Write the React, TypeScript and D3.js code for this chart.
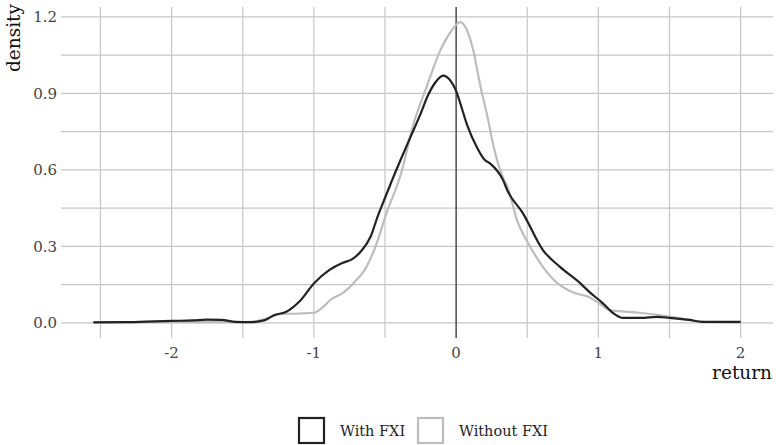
import React, { useEffect, useRef } from "react";
import * as d3 from "d3";

const WIDTH = 776;
const HEIGHT = 445;
const MARGIN = { TOP: 7, BOTTOM: 107, LEFT: 61, RIGHT: 3 };

// With FXI (black)
const returnsWith = [
  -2.55, -2.3, -2.0, -1.85, -1.75, -1.65, -1.55, -1.45, -1.35, -1.28, -1.19, -1.1, -1.0, -0.89, -0.8,
  -0.73, -0.67, -0.6, -0.55, -0.5, -0.45, -0.39, -0.32, -0.25, -0.2, -0.15, -0.09, -0.04, 0.0, 0.03,
  0.075, 0.145, 0.2, 0.24, 0.33, 0.36, 0.47, 0.61, 0.73, 0.87, 0.94, 1.03, 1.1, 1.17, 1.3, 1.41, 1.5,
  1.64, 1.73, 1.85, 2.0,
];
const densityWith = [
  0.002, 0.003, 0.008, 0.01, 0.013, 0.012, 0.004, 0.003, 0.01, 0.03, 0.045, 0.085, 0.155, 0.208, 0.235,
  0.25, 0.28, 0.34, 0.42, 0.49, 0.56, 0.64, 0.73, 0.82, 0.89, 0.94, 0.97, 0.95, 0.91, 0.86,
  0.78, 0.69, 0.64, 0.625, 0.56, 0.52, 0.43, 0.286, 0.22, 0.157, 0.12, 0.078, 0.04, 0.02, 0.02, 0.024, 0.02,
  0.012, 0.004, 0.004, 0.004,
];

// Without FXI (grey)
const returnsWithout = [
  -2.55, -2.0, -1.6, -1.45, -1.38, -1.3, -1.25, -1.1, -1.0, -0.94, -0.885, -0.79, -0.72, -0.63, -0.56,
  -0.49, -0.39, -0.3, -0.205, -0.11, -0.04, 0.03, 0.075, 0.12, 0.17, 0.22, 0.26, 0.33, 0.36, 0.43, 0.52,
  0.61, 0.71, 0.82, 0.94, 1.0, 1.08, 1.29, 1.5, 1.64, 1.72, 2.0,
];
const densityWithout = [
  0.003, 0.003, 0.003, 0.004, 0.01, 0.025, 0.035, 0.037, 0.04, 0.06, 0.09, 0.12, 0.157, 0.22, 0.31,
  0.43, 0.58, 0.78, 0.93, 1.07, 1.14, 1.18, 1.15, 1.07, 0.93, 0.81, 0.7, 0.57, 0.535, 0.4, 0.3,
  0.22, 0.157, 0.12, 0.1, 0.08, 0.05, 0.04, 0.025, 0.012, 0.004, 0.002,
];

const xTicks = [-2, -1, 0, 1, 2];
const xMinor = [-2.5, -1.5, -0.5, 0.5, 1.5];
const yTicks = [0, 0.3, 0.6, 0.9, 1.2];
const yMinor = [0.15, 0.45, 0.75, 1.05];
const seriesNames = ["With FXI", "Without FXI"];
const seriesColors = ["#222222", "#bdbdbd"];

const FONT = "'DejaVu Serif', serif";

export default function App() {
  const ref = useRef<SVGSVGElement>(null);

  useEffect(() => {
    const svg = d3.select(ref.current);
    svg.selectAll("*").remove();

    const x = d3
      .scaleLinear()
      .domain([-2.7775, 2.2275])
      .range([MARGIN.LEFT, WIDTH - MARGIN.RIGHT]);
    const y = d3
      .scaleLinear()
      .domain([-0.059, 1.239])
      .range([HEIGHT - MARGIN.BOTTOM, MARGIN.TOP]);

    const grid = svg.append("g");
    [...xTicks, ...xMinor].forEach((t) => {
      grid
        .append("line")
        .attr("x1", x(t))
        .attr("x2", x(t))
        .attr("y1", y.range()[1])
        .attr("y2", y.range()[0])
        .attr("stroke", "#c6c6c6")
        .attr("stroke-width", 1.2);
    });
    [...yTicks, ...yMinor].forEach((t) => {
      grid
        .append("line")
        .attr("x1", x.range()[0])
        .attr("x2", x.range()[1])
        .attr("y1", y(t))
        .attr("y2", y(t))
        .attr("stroke", "#c6c6c6")
        .attr("stroke-width", 1.2);
    });

    // vertical reference at 0
    svg
      .append("line")
      .attr("x1", x(0))
      .attr("x2", x(0))
      .attr("y1", y.range()[1])
      .attr("y2", y.range()[0])
      .attr("stroke", "#111")
      .attr("stroke-width", 1);

    const line = d3
      .line<[number, number]>()
      .x((d) => x(d[0]))
      .y((d) => y(d[1]))
      .curve(d3.curveMonotoneX);

    const seriesData: [number, number][][] = [
      returnsWith.map((r, i) => [r, densityWith[i]]),
      returnsWithout.map((r, i) => [r, densityWithout[i]]),
    ];
    // grey drawn first, black on top
    [1, 0].forEach((i) => {
      svg
        .append("path")
        .attr("d", line(seriesData[i]))
        .attr("fill", "none")
        .attr("stroke", seriesColors[i])
        .attr("stroke-width", 2.2);
    });

    // tick labels
    svg
      .append("g")
      .selectAll("text")
      .data(xTicks)
      .enter()
      .append("text")
      .attr("x", (d) => x(d))
      .attr("y", 358)
      .attr("text-anchor", "middle")
      .attr("font-family", FONT)
      .attr("font-size", 15)
      .attr("fill", "#444")
      .text((d) => String(d));

    svg
      .append("g")
      .selectAll("text")
      .data(yTicks)
      .enter()
      .append("text")
      .attr("x", 57)
      .attr("y", (d) => y(d) + 5.5)
      .attr("text-anchor", "end")
      .attr("font-family", FONT)
      .attr("font-size", 15)
      .attr("fill", "#444")
      .text((d) => d.toFixed(1));

    svg
      .append("text")
      .attr("transform", "translate(20,4) rotate(-90)")
      .attr("text-anchor", "end")
      .attr("font-family", FONT)
      .attr("font-size", 18.5)
      .attr("fill", "#111")
      .text("density");

    svg
      .append("text")
      .attr("x", 772)
      .attr("y", 379)
      .attr("text-anchor", "end")
      .attr("font-family", FONT)
      .attr("font-size", 18.5)
      .attr("fill", "#111")
      .text("return");

    // legend
    const legendX = [298, 417];
    seriesNames.forEach((name, i) => {
      const g = svg.append("g").attr("transform", `translate(${legendX[i]},417)`);
      g.append("rect")
        .attr("x", 1)
        .attr("y", 1)
        .attr("width", 25)
        .attr("height", 25)
        .attr("fill", "#fff")
        .attr("stroke", seriesColors[i])
        .attr("stroke-width", 2.2);
      g.append("text")
        .attr("x", 42)
        .attr("y", 19)
        .attr("font-family", FONT)
        .attr("font-size", 14.5)
        .attr("fill", "#222")
        .text(name);
    });
  }, []);

  return (
    <svg
      ref={ref}
      width={WIDTH}
      height={HEIGHT}
      style={{ position: "absolute", left: 0, top: 0, background: "#fff" }}
    />
  );
}
